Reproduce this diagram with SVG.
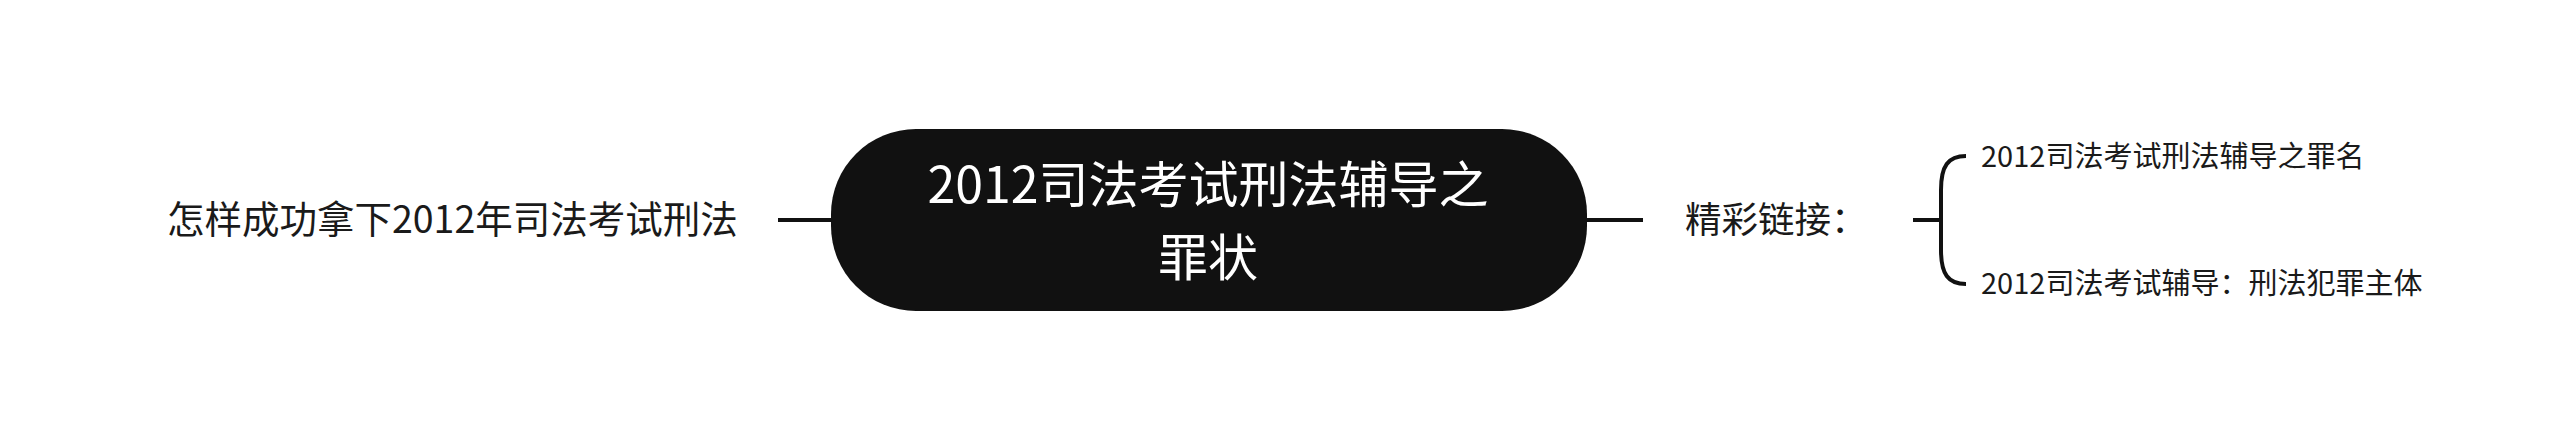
<svg xmlns="http://www.w3.org/2000/svg" width="2560" height="440" viewBox="0 0 2560 440">
<style>
.t{font-family:"Noto Sans CJK SC","Noto Sans",sans-serif;fill:#1a1a1a}
.root{font-family:"Noto Sans CJK SC","Noto Sans",sans-serif;fill:#ffffff;font-size:50px;text-anchor:middle}
.c{stroke:#111;stroke-width:4;fill:none;stroke-linecap:butt}
</style>
<rect width="2560" height="440" fill="#ffffff"/>
<g id="connectors">
<line class="c" x1="778" y1="220" x2="832" y2="220"/>
<line class="c" x1="1586" y1="220" x2="1643" y2="220"/>
<line class="c" x1="1913" y1="220" x2="1941" y2="220"/>
<path class="c" d="M1966,156 C1948,156 1941,166 1941,190 L1941,250 C1941,274 1948,284 1966,284"/>
</g>
<g id="root">
<rect x="831" y="129" width="756" height="182" rx="85" ry="85" fill="#111111"/>
<text class="root" x="1208" y="203">2012司法考试刑法辅导之</text>
<text class="root" x="1208" y="276">罪状</text>
</g>
<g id="left">
<text class="t" x="167" y="233" font-size="37.5">怎样成功拿下2012年司法考试刑法</text>
</g>
<g id="links">
<text class="t" x="1685" y="233" font-size="36.5">精彩链接：</text>
</g>
<g id="sub1">
<text class="t" x="1981" y="167" font-size="29">2012司法考试刑法辅导之罪名</text>
</g>
<g id="sub2">
<text class="t" x="1981" y="294" font-size="29">2012司法考试辅导：刑法犯罪主体</text>
</g>
</svg>
